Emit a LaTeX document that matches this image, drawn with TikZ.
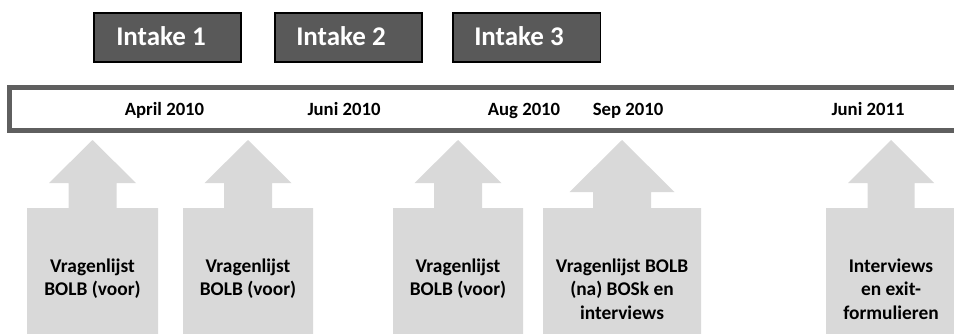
\documentclass[tikz,border=0pt]{standalone}
\usepackage{fontspec}
\setmainfont{Carlito}
\definecolor{darkbox}{HTML}{595959}
\definecolor{barline}{HTML}{5F5F5F}
\definecolor{arrowfill}{HTML}{D9D9D9}
\newcommand\myuparrow[5]{%
  \fill[arrowfill] (#1,140) -- ({#1+#2},#5) -- ({#1+#3},#5) -- ({#1+#3},208)
    -- ({#1+#4},208) -- ({#1+#4},345) -- ({#1-#4},345) -- ({#1-#4},208)
    -- ({#1-#3},208) -- ({#1-#3},#5) -- ({#1-#2},#5) -- cycle;}
\begin{document}
\begin{tikzpicture}[x=1pt,y=-1pt,
  intakebox/.style={draw=black,line width=1.5pt,fill=darkbox},
  intaketext/.style={text=white,font=\fontsize{27}{32}\selectfont\bfseries,inner sep=0pt,anchor=base},
  datelabel/.style={font=\fontsize{18.7}{22}\selectfont\bfseries,inner sep=0pt,anchor=base},
  arrowtext/.style={font=\fontsize{19.4}{23.7}\selectfont\bfseries,inner sep=0pt,anchor=base}]
\useasboundingbox (0,0) rectangle (954,333);
\clip (0,0) rectangle (954,333);
% intake boxes
\draw[intakebox] (94,13) rectangle (241,62);
\node[intaketext] (i1) at (161,45) {Intake 1};
\draw[intakebox] (275,13) rectangle (422,62);
\node[intaketext] (i2) at (341,45) {Intake 2};
\draw[intakebox] (453,13) rectangle (600.5,62);
\node[intaketext] (i3) at (519,45) {Intake 3};
% timeline bar
\draw[barline,line width=4.5pt,fill=white] (9.5,87.5) -- (965,87.5) -- (965,130.5) -- (9.5,130.5) -- cycle;
\node[datelabel] (d1) at (164.5,115) {April 2010};
\node[datelabel] (d2) at (344,115) {Juni 2010};
\node[datelabel] (d3) at (524,115) {Aug 2010};
\node[datelabel] (d4) at (628,115) {Sep 2010};
\node[datelabel] (d5) at (868,115) {Juni 2011};
% arrows
\myuparrow{92.5}{43.5}{24}{65.5}{183}
\myuparrow{248}{43.5}{24}{65}{183}
\myuparrow{458}{43.5}{24}{65}{183}
\myuparrow{622}{52.5}{29}{79}{192}
\myuparrow{891}{43}{23.5}{65}{183}
\node[arrowtext] (a1) at (92.5,272) {\begin{tabular}[t]{@{}c@{}}Vragenlijst\\BOLB (voor)\end{tabular}};
\node[arrowtext] (a2) at (248,272) {\begin{tabular}[t]{@{}c@{}}Vragenlijst\\BOLB (voor)\end{tabular}};
\node[arrowtext] (a3) at (458,272) {\begin{tabular}[t]{@{}c@{}}Vragenlijst\\BOLB (voor)\end{tabular}};
\node[arrowtext] (a4) at (622,272) {\begin{tabular}[t]{@{}c@{}}Vragenlijst BOLB\\(na) BOSk en\\interviews\end{tabular}};
\node[arrowtext] (a5) at (891,272) {\begin{tabular}[t]{@{}c@{}}Interviews\\en exit-\\formulieren\end{tabular}};
\end{tikzpicture}
\end{document}
